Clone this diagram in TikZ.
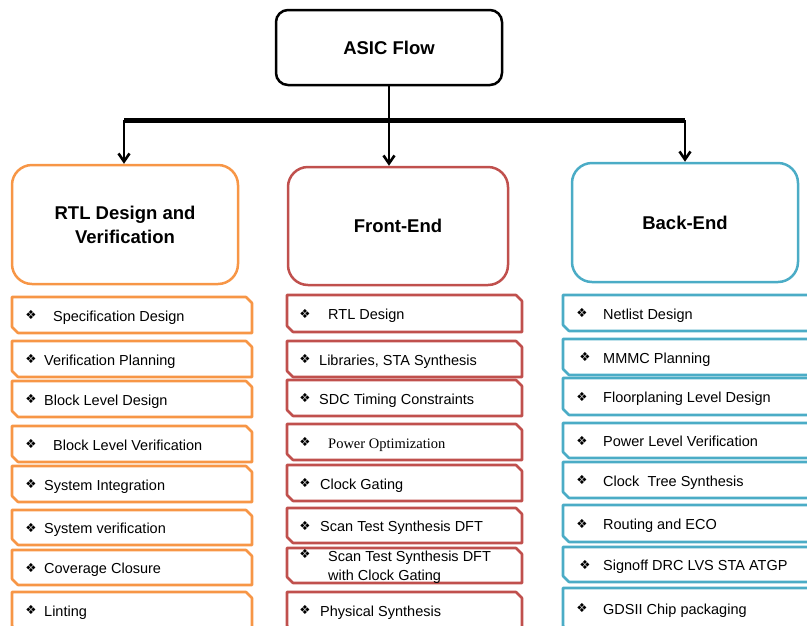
\documentclass[tikz,border=0pt]{standalone}
\usepackage{fontspec}
\setmainfont{Liberation Sans}
\newfontfamily\dejavu{DejaVu Sans}
\newfontfamily\timesfont{Liberation Serif}
\usepackage{xcolor}
\usepackage{tikz}
\usetikzlibrary{calc, arrows.meta, positioning}

\definecolor{rtlorange}{HTML}{F79646}
\definecolor{fered}{HTML}{C0504D}
\definecolor{beblue}{HTML}{4BACC6}

% khung muc con, cat goc: mau, trai, tren, phai, duoi
\newcommand{\itemframe}[5]{%
  \draw[itemline, draw=#1] (#2,#3) -- ({#4-6},#3) -- (#4,{#3+6}) -- (#4,#5)
    -- ({#2+6},#5) -- (#2,{#5-6}) -- cycle;}

\begin{document}
\begin{tikzpicture}[x=1pt, y=-1pt, >={Straight Barb[length=8pt,width=11pt]},
    topbox/.style={draw, line width=2.5pt, rounded corners=12pt,
        minimum width=226pt, minimum height=75pt,
        font=\bfseries\fontsize{18.5}{22}\selectfont},
    catbox/.style={draw, line width=2.5pt, rounded corners=20pt,
        align=center, font=\bfseries\fontsize{18.5}{24}\selectfont},
    itemline/.style={line width=2.6pt, line join=round},
    itemtext/.style={anchor=west, inner sep=0pt, text height=10.5pt,
        text depth=0pt, font=\fontsize{14.5}{19}\selectfont},
    bul/.style={inner sep=0pt, font=\dejavu\fontsize{12.5}{14}\selectfont},
    bar/.style={line width=5pt},
    branch/.style={line width=2.6pt}]

    \clip (0,0) rectangle (807,625);

    % =================================================================
    % 1. HOP TIEU DE VA BA NHANH CHINH
    % =================================================================
    \node[topbox] (asic) at (389,47.5) {ASIC Flow};

    \node[catbox, draw=rtlorange, minimum width=226pt, minimum height=119pt]
        (rtl) at (125,224.5) {RTL Design and\\Verification};
    \node[catbox, draw=fered, minimum width=220pt, minimum height=118pt]
        (fe) at (398,226) {Front-End};
    \node[catbox, draw=beblue, minimum width=226pt, minimum height=119pt]
        (be) at (685,222.5) {Back-End};

    % =================================================================
    % 2. DUONG NOI VA MUI TEN
    % =================================================================
    \coordinate (barL) at (124,120);
    \coordinate (barR) at (685,120);

    \draw[bar] (barL) -- (barR);
    \draw[branch, ->] (asic.south) -- (asic.south |- fe.north);
    \draw[branch, ->] (barL) -- (barL |- rtl.north);
    \draw[branch, ->] (barR) -- (barR |- be.north);

    % =================================================================
    % 3. COT TRAI: RTL DESIGN AND VERIFICATION
    % =================================================================
    \itemframe{rtlorange}{12}{297}{252}{333}
    \itemframe{rtlorange}{12}{341}{252}{377}
    \itemframe{rtlorange}{12}{381}{252}{417}
    \itemframe{rtlorange}{12}{426}{252}{462}
    \itemframe{rtlorange}{12}{466}{252}{502}
    \itemframe{rtlorange}{12}{510}{252}{545}
    \itemframe{rtlorange}{12}{550}{252}{585}
    \itemframe{rtlorange}{12}{592}{252}{632}

    \node[bul] (bL1) at (31,315) {❖};
    \node[bul] (bL2) at (31,359) {❖};
    \node[bul] (bL3) at (31,399) {❖};
    \node[bul] (bL4) at (31,444) {❖};
    \node[bul] (bL5) at (31,484) {❖};
    \node[bul] (bL6) at (31,527.5) {❖};
    \node[bul] (bL7) at (31,567.5) {❖};
    \node[bul] (bL8) at (31,610) {❖};

    \node[itemtext] (L1) at (53,316) {Specification Design};
    \node[itemtext] (L2) at (44,360) {Verification Planning};
    \node[itemtext] (L3) at (44,400) {Block Level Design};
    \node[itemtext] (L4) at (53,445) {Block Level Verification};
    \node[itemtext] (L5) at (44,485) {System Integration};
    \node[itemtext] (L6) at (44,528.5) {System verification};
    \node[itemtext] (L7) at (44,568.5) {Coverage Closure};
    \node[itemtext] (L8) at (44,611) {Linting};

    % =================================================================
    % 4. COT GIUA: FRONT-END
    % =================================================================
    \itemframe{fered}{287}{295}{522}{332}
    \itemframe{fered}{287}{341}{522}{377}
    \itemframe{fered}{287}{380}{522}{416}
    \itemframe{fered}{287}{424}{522}{460}
    \itemframe{fered}{287}{465}{522}{501}
    \itemframe{fered}{287}{508}{522}{543}
    \itemframe{fered}{287}{548}{522}{583}
    \itemframe{fered}{287}{592}{522}{632}

    \node[bul] (bM1) at (305,313.5) {❖};
    \node[bul] (bM2) at (305,359) {❖};
    \node[bul] (bM3) at (305,398) {❖};
    \node[bul] (bM4) at (305,442) {❖};
    \node[bul] (bM5) at (305,483) {❖};
    \node[bul] (bM6) at (305,525.5) {❖};
    \node[bul] (bM7) at (305,554) {❖};
    \node[bul] (bM8) at (305,610) {❖};

    \node[itemtext] (M1) at (328,314.5) {RTL Design};
    \node[itemtext] (M2) at (319,360) {Libraries, STA Synthesis};
    \node[itemtext] (M3) at (319,399) {SDC Timing Constraints};
    \node[itemtext, font=\timesfont\fontsize{14.5}{19}\selectfont]
        (M4) at (328,443) {Power Optimization};
    \node[itemtext] (M5) at (320,484) {Clock Gating};
    \node[itemtext] (M6) at (320,526.5) {Scan Test Synthesis DFT};
    \node[anchor=west, inner sep=0pt, align=left, font=\fontsize{14.5}{19}\selectfont]
        (M7) at (328,567.5) {Scan Test Synthesis DFT\\with Clock Gating};
    \node[itemtext] (M8) at (320,611) {Physical Synthesis};

    % =================================================================
    % 5. COT PHAI: BACK-END
    % =================================================================
    \itemframe{beblue}{563}{295}{815}{331}
    \itemframe{beblue}{563}{339}{815}{375}
    \itemframe{beblue}{563}{378}{815}{415}
    \itemframe{beblue}{563}{423}{815}{458}
    \itemframe{beblue}{563}{462}{815}{498}
    \itemframe{beblue}{563}{505}{815}{542}
    \itemframe{beblue}{563}{547}{815}{582}
    \itemframe{beblue}{563}{588}{815}{632}

    \node[bul] (bR1) at (582,313) {❖};
    \node[bul] (bR2) at (585,357) {❖};
    \node[bul] (bR3) at (582,396.5) {❖};
    \node[bul] (bR4) at (582,440.5) {❖};
    \node[bul] (bR5) at (582,480) {❖};
    \node[bul] (bR6) at (582,523.5) {❖};
    \node[bul] (bR7) at (585,564.5) {❖};
    \node[bul] (bR8) at (582,608) {❖};

    \node[itemtext] (R1) at (603,314) {Netlist Design};
    \node[itemtext] (R2) at (603,358) {MMMC Planning};
    \node[itemtext] (R3) at (603,397.5) {Floorplaning Level Design};
    \node[itemtext] (R4) at (603,441.5) {Power Level Verification};
    \node[itemtext] (R5) at (603,481) {Clock~~Tree Synthesis};
    \node[itemtext] (R6) at (603,524.5) {Routing and ECO};
    \node[itemtext] (R7) at (603,565.5) {Signoff DRC LVS STA ATGP};
    \node[itemtext] (R8) at (603,609) {GDSII Chip packaging};

\end{tikzpicture}
\end{document}
